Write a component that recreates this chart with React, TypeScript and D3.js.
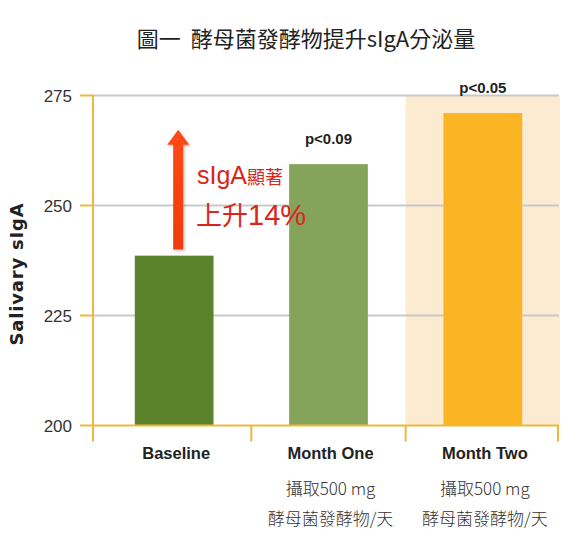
import * as React from "react"
import * as d3 from "d3"

const categories = ["Baseline", "Month One", "Month Two"]
const values = [238.6, 259.4, 271]
const pLabels = ["", "p<0.09", "p<0.05"]
const subLabels = [[], ["攝取500 mg", "酵母菌發酵物/天"], ["攝取500 mg", "酵母菌發酵物/天"]]
const yTicks = [200, 225, 250, 275]
const barColors = ["#5b832b", "#84a35b", "#fbb422"]
const highlighted = "Month Two"
const arrowRange = [240, 267.2]

const W = 583
const H = 548
const margin = { top: 95.5, right: 24, bottom: 122.5, left: 93 }

const cjk = "'Noto Sans CJK TC', 'Noto Sans CJK SC', sans-serif"
const narrow = "'Liberation Sans Narrow', 'Liberation Sans', sans-serif"

export default function App() {
  const innerH = H - margin.top - margin.bottom
  const right = W - margin.right

  const x = d3.scaleBand<string>().domain(categories).range([97, 560]).padding(0)
  const y = d3.scaleLinear().domain([200, 275]).range([margin.top + innerH, margin.top])
  const barW = x.bandwidth() * 0.51
  const y0 = y(200)

  // red arrow geometry from the data range
  const ax = (x("Baseline") || 0) + x.bandwidth() / 2 + 4
  const aTop = y(arrowRange[1])
  const aBot = y(arrowRange[0])
  const arrowPath = d3.path()
  arrowPath.moveTo(ax - 5, aBot)
  arrowPath.lineTo(ax - 5, aTop + 15)
  arrowPath.lineTo(ax - 11, aTop + 15)
  arrowPath.lineTo(ax, aTop)
  arrowPath.lineTo(ax + 11, aTop + 15)
  arrowPath.lineTo(ax + 5, aTop + 15)
  arrowPath.lineTo(ax + 5, aBot)
  arrowPath.closePath()

  const hx = x(highlighted) || 0

  return (
    <div style={{ position: "absolute", left: 0, top: 0 }}>
      <svg width={W} height={H} viewBox={`0 0 ${W} ${H}`} style={{ display: "block", background: "#fff" }}>
        <defs>
          <linearGradient id="arrowGrad" x1="0" x2="0" y1="0" y2="1">
            <stop offset="0" stopColor="#ff4a14" />
            <stop offset="1" stopColor="#f23a0c" />
          </linearGradient>
          <filter id="shadow" x="-50%" y="-10%" width="200%" height="130%">
            <feDropShadow dx="1.5" dy="1.5" stdDeviation="1.2" floodColor="#000" floodOpacity="0.25" />
          </filter>
        </defs>

        {/* title */}
        <text x={306} y={47} textAnchor="middle" fontFamily={cjk} fontSize={22} fill="#222" xmlSpace="preserve">
          圖一  酵母菌發酵物提升sIgA分泌量
        </text>

        {/* highlight band */}
        <rect x={hx} y={y(275)} width={x.bandwidth()} height={y0 - y(275)} fill="#fcebd0" />

        {/* grid lines */}
        {yTicks.filter((t) => t !== 200).map((t) => (
          <line key={t} x1={margin.left} x2={right} y1={y(t)} y2={y(t)} stroke="#c9c9c9" strokeWidth={2} />
        ))}

        {/* bars */}
        {categories.map((c, i) => (
          <rect
            key={c}
            x={(x(c) || 0) + (x.bandwidth() - barW) / 2}
            y={y(values[i])}
            width={barW}
            height={y0 - y(values[i])}
            fill={barColors[i]}
          />
        ))}

        {/* axes */}
        <line x1={margin.left} x2={margin.left} y1={y(275)} y2={y0 + 16} stroke="#ebb93e" strokeWidth={2} />
        <line x1={margin.left} x2={right} y1={y0} y2={y0} stroke="#ebb93e" strokeWidth={2} />
        {yTicks.map((t) => (
          <g key={t}>
            <line x1={margin.left - 13} x2={margin.left} y1={y(t)} y2={y(t)} stroke="#ebb93e" strokeWidth={2} />
            <text x={72} y={y(t) + 6} textAnchor="end" fontFamily={narrow} fontSize={17} fill="#333">
              {t}
            </text>
          </g>
        ))}
        {categories.map((c, i) =>
          i === 0 ? null : (
            <line key={c} x1={x(c)} x2={x(c)} y1={y0} y2={y0 + 16} stroke="#ebb93e" strokeWidth={2} />
          )
        )}
        <line x1={right - 1} x2={right - 1} y1={y0} y2={y0 + 16} stroke="#ebb93e" strokeWidth={2} />

        {/* category labels */}
        {categories.map((c, i) => {
          const cx = (x(c) || 0) + x.bandwidth() / 2 + 2
          return (
            <g key={c}>
              <text x={cx} y={459} textAnchor="middle" fontFamily="'Liberation Sans', Arial, sans-serif" fontWeight="bold" fontSize={16.5} fill="#222">
                {c}
              </text>
              {subLabels[i].map((s, k) => (
                <text key={k} x={cx} y={495 + k * 30} textAnchor="middle" fontFamily={cjk} fontWeight={300} fontSize={17} fill="#333">
                  {s}
                </text>
              ))}
              {pLabels[i] && (
                <text x={cx - 2} y={y(values[i]) - 20} textAnchor="middle" fontFamily={narrow} fontWeight="bold" fontSize={15} fill="#222">
                  {pLabels[i]}
                </text>
              )}
            </g>
          )
        })}

        {/* y title */}
        <text
          transform={`translate(23,274) rotate(-90)`}
          textAnchor="middle"
          fontFamily="'DejaVu Sans', sans-serif"
          fontWeight="bold"
          fontSize={18}
          letterSpacing={0.8}
          fill="#222"
        >
          Salivary sIgA
        </text>

        {/* annotation */}
        <path d={arrowPath.toString()} fill="url(#arrowGrad)" filter="url(#shadow)" />
        <text x={197} y={184} fill="#d9261c" fontFamily={narrow} fontSize={25}>
          sIgA<tspan fontFamily={cjk} fontSize={18}>顯著</tspan>
        </text>
        <text x={196} y={225} fill="#d9261c" fontFamily={cjk} fontSize={26}>
          上升<tspan fontFamily={narrow} fontSize={29}>14%</tspan>
        </text>
      </svg>
    </div>
  )
}
